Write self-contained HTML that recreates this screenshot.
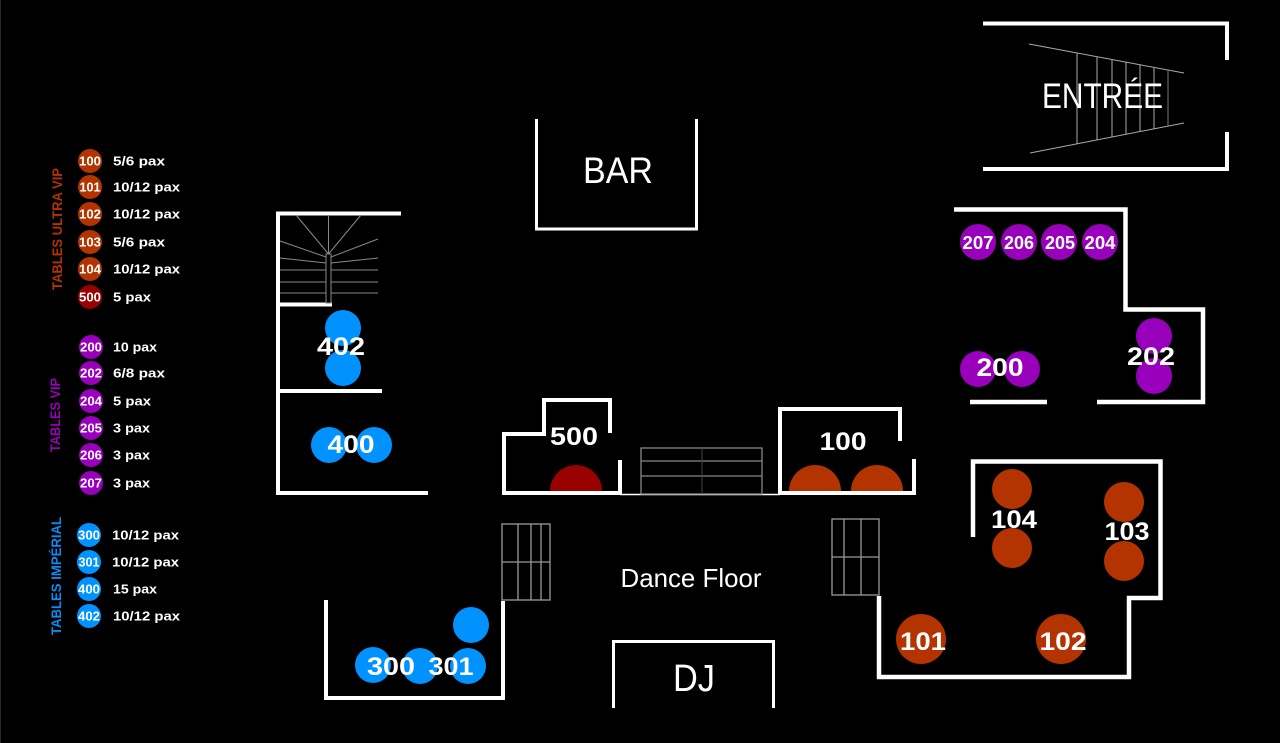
<!DOCTYPE html>
<html>
<head>
<meta charset="utf-8">
<style>
html,body{margin:0;padding:0;background:#000;}
body{width:1280px;height:743px;overflow:hidden;}
svg{display:block;}
text{font-family:"Liberation Sans",sans-serif;fill:#fff;}
.b{font-weight:bold;}
</style>
</head>
<body>
<svg width="1280" height="743" viewBox="0 0 1280 743" xmlns="http://www.w3.org/2000/svg">
<rect x="0" y="0" width="1280" height="743" fill="#000"/>
<line x1="0.5" y1="0" x2="0.5" y2="743" stroke="#2a2a2a" stroke-width="1"/>

<!-- ================= LEGEND ================= -->
<g class="b">
  <text transform="translate(57,229) rotate(-90)" text-anchor="middle" y="5" font-size="14" textLength="122" lengthAdjust="spacingAndGlyphs" style="fill:#b33400">TABLES ULTRA VIP</text>
  <text transform="translate(55,415) rotate(-90)" text-anchor="middle" y="5" font-size="14" textLength="74" lengthAdjust="spacingAndGlyphs" style="fill:#9900bb">TABLES VIP</text>
  <text transform="translate(56,576) rotate(-90)" text-anchor="middle" y="5" font-size="14" textLength="118" lengthAdjust="spacingAndGlyphs" style="fill:#0a8cf0">TABLES IMPÉRIAL</text>
</g>

<g font-size="13" class="b">
  <!-- ultra vip -->
  <circle cx="90" cy="161" r="12" fill="#b33400"/>
  <text x="90" y="165.5" text-anchor="middle" textLength="22" lengthAdjust="spacingAndGlyphs">100</text>
  <text x="113" y="165.5" textLength="52" lengthAdjust="spacingAndGlyphs">5/6 pax</text>

  <circle cx="90" cy="187" r="12" fill="#b33400"/>
  <text x="90" y="191.5" text-anchor="middle" textLength="21" lengthAdjust="spacingAndGlyphs">101</text>
  <text x="113" y="191.5" textLength="67" lengthAdjust="spacingAndGlyphs">10/12 pax</text>

  <circle cx="90" cy="214" r="12" fill="#b33400"/>
  <text x="90" y="218.5" text-anchor="middle" textLength="22" lengthAdjust="spacingAndGlyphs">102</text>
  <text x="113" y="218.5" textLength="67" lengthAdjust="spacingAndGlyphs">10/12 pax</text>

  <circle cx="90" cy="242" r="12" fill="#b33400"/>
  <text x="90" y="246.5" text-anchor="middle" textLength="22" lengthAdjust="spacingAndGlyphs">103</text>
  <text x="113" y="246.5" textLength="52" lengthAdjust="spacingAndGlyphs">5/6 pax</text>

  <circle cx="90" cy="269" r="12" fill="#b33400"/>
  <text x="90" y="273.5" text-anchor="middle" textLength="22" lengthAdjust="spacingAndGlyphs">104</text>
  <text x="113" y="273.5" textLength="67" lengthAdjust="spacingAndGlyphs">10/12 pax</text>

  <circle cx="90" cy="297" r="12" fill="#990000"/>
  <text x="90" y="301.5" text-anchor="middle" textLength="22" lengthAdjust="spacingAndGlyphs">500</text>
  <text x="113" y="301.5" textLength="38" lengthAdjust="spacingAndGlyphs">5 pax</text>

  <!-- vip -->
  <circle cx="91" cy="347" r="12" fill="#9900bb"/>
  <text x="91" y="351.5" text-anchor="middle" textLength="22" lengthAdjust="spacingAndGlyphs">200</text>
  <text x="113" y="351.5" textLength="44" lengthAdjust="spacingAndGlyphs">10 pax</text>

  <circle cx="91" cy="373" r="12" fill="#9900bb"/>
  <text x="91" y="377.5" text-anchor="middle" textLength="22" lengthAdjust="spacingAndGlyphs">202</text>
  <text x="113" y="377.5" textLength="52" lengthAdjust="spacingAndGlyphs">6/8 pax</text>

  <circle cx="91" cy="401" r="12" fill="#9900bb"/>
  <text x="91" y="405.5" text-anchor="middle" textLength="22" lengthAdjust="spacingAndGlyphs">204</text>
  <text x="113" y="405.5" textLength="38" lengthAdjust="spacingAndGlyphs">5 pax</text>

  <circle cx="91" cy="428" r="12" fill="#9900bb"/>
  <text x="91" y="432.5" text-anchor="middle" textLength="22" lengthAdjust="spacingAndGlyphs">205</text>
  <text x="113" y="432.5" textLength="37" lengthAdjust="spacingAndGlyphs">3 pax</text>

  <circle cx="91" cy="455" r="12" fill="#9900bb"/>
  <text x="91" y="459.5" text-anchor="middle" textLength="22" lengthAdjust="spacingAndGlyphs">206</text>
  <text x="113" y="459.5" textLength="37" lengthAdjust="spacingAndGlyphs">3 pax</text>

  <circle cx="91" cy="483" r="12" fill="#9900bb"/>
  <text x="91" y="487.5" text-anchor="middle" textLength="22" lengthAdjust="spacingAndGlyphs">207</text>
  <text x="113" y="487.5" textLength="37" lengthAdjust="spacingAndGlyphs">3 pax</text>

  <!-- imperial -->
  <circle cx="89" cy="535" r="12" fill="#0093ff"/>
  <text x="89" y="539.5" text-anchor="middle" textLength="22" lengthAdjust="spacingAndGlyphs">300</text>
  <text x="112" y="539.5" textLength="67" lengthAdjust="spacingAndGlyphs">10/12 pax</text>

  <circle cx="89" cy="562" r="12" fill="#0093ff"/>
  <text x="89" y="566.5" text-anchor="middle" textLength="21" lengthAdjust="spacingAndGlyphs">301</text>
  <text x="112" y="566.5" textLength="67" lengthAdjust="spacingAndGlyphs">10/12 pax</text>

  <circle cx="89" cy="589" r="12" fill="#0093ff"/>
  <text x="89" y="593.5" text-anchor="middle" textLength="22" lengthAdjust="spacingAndGlyphs">400</text>
  <text x="113" y="593.5" textLength="44" lengthAdjust="spacingAndGlyphs">15 pax</text>

  <circle cx="89" cy="616" r="12" fill="#0093ff"/>
  <text x="89" y="620.5" text-anchor="middle" textLength="22" lengthAdjust="spacingAndGlyphs">402</text>
  <text x="113" y="620.5" textLength="67" lengthAdjust="spacingAndGlyphs">10/12 pax</text>
</g>

<!-- ================= ENTREE ================= -->
<g fill="none" stroke="#fff" stroke-width="4" stroke-linejoin="miter">
  <path d="M983,23.5 H1227 V60"/>
  <path d="M1227,132 V169 H983"/>
</g>
<g stroke="#aaa" stroke-width="1" fill="none">
  <line x1="1029" y1="44" x2="1184" y2="73"/>
  <line x1="1030" y1="153" x2="1184" y2="123"/>
  <line x1="1077" y1="53" x2="1077" y2="143.8"/>
  <line x1="1097" y1="56.7" x2="1097" y2="140"/>
  <line x1="1112" y1="59.5" x2="1112" y2="137"/>
  <line x1="1126" y1="62.1" x2="1126" y2="134.3"/>
  <line x1="1140" y1="64.8" x2="1140" y2="131.6"/>
  <line x1="1154" y1="67.4" x2="1154" y2="128.9"/>
  <line x1="1168" y1="70" x2="1168" y2="126.1" stroke="#777"/>
</g>
<text x="1102.5" y="108" text-anchor="middle" font-size="35" textLength="121" lengthAdjust="spacingAndGlyphs">ENTRÉE</text>

<!-- ================= BAR ================= -->
<path d="M536.5,119 V229 H696.5 V119" fill="none" stroke="#fff" stroke-width="3"/>
<text x="618" y="183" text-anchor="middle" font-size="37" textLength="70" lengthAdjust="spacingAndGlyphs">BAR</text>

<!-- ================= DJ ================= -->
<path d="M613.5,708 V641.5 H773.5 V708" fill="none" stroke="#fff" stroke-width="3"/>
<text x="694" y="691" text-anchor="middle" font-size="38" textLength="42" lengthAdjust="spacingAndGlyphs">DJ</text>

<!-- ================= LEFT STAIRS / 402 / 400 ================= -->
<g fill="none" stroke="#fff" stroke-width="4">
  <path d="M401,213.5 H278 V493 H428"/>
  <line x1="278" y1="304.5" x2="332" y2="304.5"/>
  <line x1="278" y1="391" x2="382" y2="391"/>
</g>
<g stroke="#888" stroke-width="1" fill="none">
  <rect x="326" y="254" width="5" height="49"/>
  <line x1="328.5" y1="254" x2="296" y2="215"/>
  <line x1="328.5" y1="254" x2="328.5" y2="215"/>
  <line x1="328.5" y1="254" x2="361" y2="215"/>
  <line x1="326" y1="257" x2="280" y2="241"/>
  <line x1="331" y1="257" x2="378" y2="239"/>
  <line x1="326" y1="263" x2="280" y2="258"/>
  <line x1="331" y1="263" x2="378" y2="258"/>
  <line x1="280" y1="270" x2="326" y2="270"/>
  <line x1="331" y1="270" x2="378" y2="270"/>
  <line x1="280" y1="282" x2="326" y2="282"/>
  <line x1="331" y1="282" x2="378" y2="282"/>
  <line x1="280" y1="293" x2="326" y2="293"/>
  <line x1="331" y1="293" x2="378" y2="293"/>
</g>
<g fill="#0093ff">
  <circle cx="343" cy="328" r="18"/>
  <circle cx="343" cy="368" r="18"/>
  <circle cx="329" cy="445" r="18"/>
  <circle cx="374" cy="445" r="18"/>
</g>
<g class="b" font-size="25">
  <text x="341" y="355" text-anchor="middle" textLength="48" lengthAdjust="spacingAndGlyphs">402</text>
  <text x="351" y="453" text-anchor="middle" textLength="47" lengthAdjust="spacingAndGlyphs">400</text>
</g>

<!-- ================= 500 ROOM ================= -->
<path d="M620,460 V493 H504 V434 H544 V400 H610 V433" fill="none" stroke="#fff" stroke-width="4"/>
<path d="M550,491 A26,26 0 0 1 602,491 Z" fill="#990000"/>
<text class="b" x="574" y="445" text-anchor="middle" font-size="25" textLength="48" lengthAdjust="spacingAndGlyphs">500</text>

<line x1="620" y1="494.5" x2="780" y2="494.5" stroke="#fff" stroke-width="1.5"/>
<g stroke="#888" stroke-width="1.3" fill="none">
  <rect x="641" y="448" width="121" height="46"/>
  <line x1="641" y1="461" x2="762" y2="461"/>
  <line x1="641" y1="476" x2="762" y2="476"/>
</g>
<line x1="702" y1="448" x2="702" y2="494" stroke="#444" stroke-width="1"/>

<!-- ================= 100 ROOM ================= -->
<path d="M914,459 V493 H780 V409 H900 V441" fill="none" stroke="#fff" stroke-width="4"/>
<g fill="#b33400">
  <path d="M789,491 A26,26 0 0 1 841,491 Z"/>
  <path d="M851,491 A26,26 0 0 1 903,491 Z"/>
</g>
<text class="b" x="843" y="450" text-anchor="middle" font-size="25" textLength="47" lengthAdjust="spacingAndGlyphs">100</text>

<!-- ================= DANCE FLOOR ================= -->
<g stroke="#999" stroke-width="1.3" fill="none">
  <rect x="502" y="524" width="48" height="76"/>
  <line x1="518" y1="524" x2="518" y2="600"/>
  <line x1="531" y1="524" x2="531" y2="600"/>
  <line x1="541" y1="524" x2="541" y2="600"/>
  <line x1="502" y1="562" x2="550" y2="562"/>
  <rect x="832" y="519" width="47" height="76"/>
  <line x1="844" y1="519" x2="844" y2="595"/>
  <line x1="861" y1="519" x2="861" y2="595"/>
  <line x1="832" y1="557" x2="879" y2="557"/>
</g>
<text x="691" y="587" text-anchor="middle" font-size="26" textLength="141" lengthAdjust="spacingAndGlyphs">Dance Floor</text>

<!-- ================= 300 ROOM ================= -->
<path d="M326,600 V698 H503 V601" fill="none" stroke="#fff" stroke-width="4"/>
<g fill="#0093ff">
  <circle cx="373" cy="665" r="18"/>
  <circle cx="420" cy="666" r="18"/>
  <circle cx="468" cy="666" r="18"/>
  <circle cx="471" cy="625" r="18"/>
</g>
<g class="b" font-size="25">
  <text x="391" y="675" text-anchor="middle" textLength="48" lengthAdjust="spacingAndGlyphs">300</text>
  <text x="451" y="675" text-anchor="middle" textLength="45" lengthAdjust="spacingAndGlyphs">301</text>
</g>

<!-- ================= VIP AREA ================= -->
<g fill="none" stroke="#fff" stroke-width="4.5">
  <path d="M954,209.5 H1125.5 V309.5 H1203 V402 H1097"/>
  <line x1="970" y1="402" x2="1047" y2="402"/>
</g>
<g fill="#9900bb">
  <circle cx="978" cy="242" r="18"/>
  <circle cx="1019" cy="242" r="18"/>
  <circle cx="1059" cy="242" r="18"/>
  <circle cx="1100" cy="242" r="18"/>
  <circle cx="978" cy="369" r="18"/>
  <circle cx="1022" cy="369" r="18"/>
  <circle cx="1154" cy="336" r="18"/>
  <circle cx="1154" cy="376" r="18"/>
</g>
<g class="b" font-size="18">
  <text x="978" y="249" text-anchor="middle" textLength="31" lengthAdjust="spacingAndGlyphs">207</text>
  <text x="1019" y="249" text-anchor="middle" textLength="30" lengthAdjust="spacingAndGlyphs">206</text>
  <text x="1060" y="249" text-anchor="middle" textLength="30" lengthAdjust="spacingAndGlyphs">205</text>
  <text x="1100" y="249" text-anchor="middle" textLength="31" lengthAdjust="spacingAndGlyphs">204</text>
</g>
<g class="b" font-size="25">
  <text x="1000" y="376" text-anchor="middle" textLength="47" lengthAdjust="spacingAndGlyphs">200</text>
  <text x="1151" y="365" text-anchor="middle" textLength="48" lengthAdjust="spacingAndGlyphs">202</text>
</g>

<!-- ================= ULTRA VIP RIGHT ================= -->
<path d="M973,537 V461.5 H1160.5 V598 H1129 V677 H879 V596" fill="none" stroke="#fff" stroke-width="4.5"/>
<g fill="#b33400">
  <circle cx="1012" cy="489" r="20"/>
  <circle cx="1012" cy="548" r="20"/>
  <circle cx="1124" cy="502" r="20"/>
  <circle cx="1124" cy="561" r="20"/>
  <circle cx="921" cy="639" r="25"/>
  <circle cx="1061" cy="639" r="25"/>
</g>
<g class="b" font-size="25">
  <text x="1014" y="528" text-anchor="middle" textLength="46" lengthAdjust="spacingAndGlyphs">104</text>
  <text x="1127" y="540" text-anchor="middle" textLength="45" lengthAdjust="spacingAndGlyphs">103</text>
  <text x="923" y="650" text-anchor="middle" textLength="46" lengthAdjust="spacingAndGlyphs">101</text>
  <text x="1063" y="650" text-anchor="middle" textLength="47" lengthAdjust="spacingAndGlyphs">102</text>
</g>
</svg>
</body>
</html>
